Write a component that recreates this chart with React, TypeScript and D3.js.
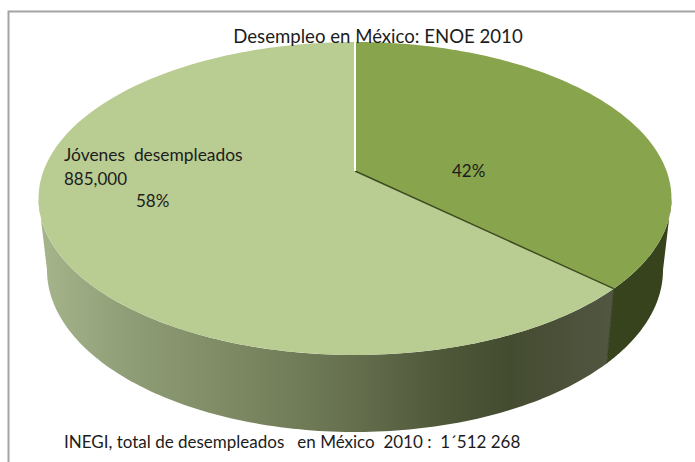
import React from "react";
import * as d3 from "d3";

// Desempleo en México, ENOE 2010: shares clockwise from twelve o'clock.
const sliceNames = ["Otros desempleados", "Jóvenes desempleados"];
const sliceShares = [42, 58];
const topColors = ["#88a44c", "#b9cc92"];
const titleText = "Desempleo en México: ENOE 2010";
const youthLabel = "Jóvenes  desempleados";
const youthCount = "885,000";
const sourceText = "INEGI, total de desempleados   en México  2010 :  1´512 268";

const width = 695;
const height = 462;
const FONT = "Lato, 'Open Sans', sans-serif";

// Rim of the upper face and of the base, as ellipses on the page.
const apex = { x: 355, y: 171 };
const topRim = { cx: 355, cy: 198.5, rx: 316.5, ry: 156.5 };
const baseRim = { cx: 355, cy: 270, rx: 308, ry: 162 };
type Rim = typeof topRim;

// Perspective foreshortening: pie angle to parameter angle on the rim ellipse.
const foreshorten = (a: number) => a - 0.942 * Math.sin(a);

const rimPoint = (rim: Rim, phi: number): [number, number] => [
  rim.cx + rim.rx * Math.sin(phi),
  rim.cy - rim.ry * Math.cos(phi),
];

const sampleAngles = (from: number, to: number) =>
  d3.range(0, 121).map((i) => from + ((to - from) * i) / 120);

const line = d3.line<[number, number]>();

const pieLayout = d3
  .pie<number>()
  .sort(null)
  .value((d) => d);

// Upper-face sector from the apex out to the rim between two pie angles.
const sectorPath = (start: number, end: number) =>
  line([
    [apex.x, apex.y],
    ...sampleAngles(start, end).map((a) => rimPoint(topRim, foreshorten(a))),
  ]) + "Z";

// Side wall between two rim parameter angles, outer edge following the base.
const wallPath = (from: number, to: number) =>
  line([
    ...sampleAngles(from, to).map((p) => rimPoint(topRim, p)),
    ...sampleAngles(to, from).map((p) => rimPoint(baseRim, p)),
  ]) + "Z";

const wallStops: [number, string][] = [
  [42, "#a6b58c"],
  [133, "#8f9d76"],
  [250, "#7a8660"],
  [355, "#656f4e"],
  [440, "#4f5839"],
  [510, "#444c30"],
  [612, "#525642"],
];
const wallX = d3.scaleLinear().domain([42, 612]).range([0, 100]);

export default function App() {
  const arcs = pieLayout(sliceShares);
  const seam = foreshorten(arcs[0].endAngle);
  const seamPoint = rimPoint(topRim, seam);
  const seamBase = rimPoint(baseRim, seam);
  const textProps = { fontFamily: FONT, fill: "#1c1c1c" };

  return (
    <svg
      width={width}
      height={height}
      style={{ position: "fixed", left: 0, top: 0, background: "#ffffff" }}
    >
      <defs>
        <linearGradient id="frontWall" x1="0" x2="1" y1="0" y2="0">
          {wallStops.map(([x, c]) => (
            <stop key={x} offset={`${wallX(x)}%`} stopColor={c} />
          ))}
        </linearGradient>
      </defs>

      {/* chart frame */}
      <path d="M8.5,462V11.5H695" fill="none" stroke="#a4a4a4" strokeWidth={2} />

      {/* side walls */}
      <path d={wallPath(Math.PI / 2, seam)} fill="#37431c" />
      <path d={wallPath(seam, (3 * Math.PI) / 2)} fill="url(#frontWall)" />
      <path
        d={line([seamPoint, seamBase]) as string}
        stroke="#3f4728"
        strokeWidth={1}
        fill="none"
      />

      {/* upper face */}
      {arcs.map((a, i) => (
        <path
          key={sliceNames[i]}
          d={sectorPath(a.startAngle, a.endAngle)}
          fill={topColors[i]}
        />
      ))}
      <path
        d={line([[apex.x, apex.y], seamPoint]) as string}
        stroke="#3c4a20"
        strokeWidth={1.4}
        fill="none"
      />
      <path
        d={line([[apex.x, apex.y], rimPoint(topRim, 0)]) as string}
        stroke="#ffffff"
        strokeWidth={2}
        fill="none"
      />

      {/* labels */}
      <text x={378} y={43} textAnchor="middle" fontSize={18.6} {...textProps}>
        {titleText}
      </text>
      <text x={64} y={161} fontSize={17.4} xmlSpace="preserve" {...textProps}>
        {youthLabel}
      </text>
      <text x={64} y={185} fontSize={17} {...textProps}>
        {youthCount}
      </text>
      <text x={136} y={207} fontSize={17} {...textProps}>
        {sliceShares[1]}%
      </text>
      <text x={452} y={177} fontSize={17} {...textProps}>
        {sliceShares[0]}%
      </text>
      <text x={64} y={448} fontSize={17} xmlSpace="preserve" {...textProps}>
        {sourceText}
      </text>
    </svg>
  );
}
